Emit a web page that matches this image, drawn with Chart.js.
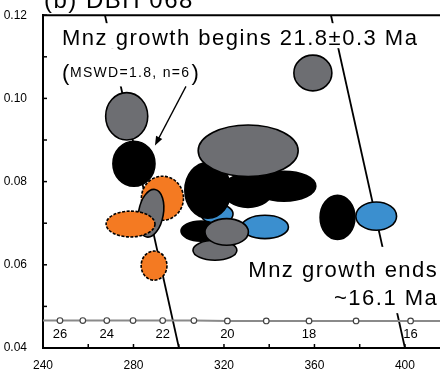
<!DOCTYPE html>
<html>
<head>
<meta charset="utf-8">
<script src="https://cdn.jsdelivr.net/npm/chart.js@4.4.0/dist/chart.umd.min.js"></script>
<style>
  html, body { margin: 0; padding: 0; background: #fff; }
  #wrap { width: 440px; height: 370px; }
</style>
</head>
<body>
<div id="wrap"><canvas id="chart" width="440" height="370"></canvas></div>
<script>
// Tick waarden van de assen
const xTickValues = [240, 280, 320, 360, 400];
const xMinorTicks = [260, 300, 340, 380];
const yTickValues = [0.04, 0.06, 0.08, 0.10, 0.12];
const yMinorTicks = [0.05, 0.07, 0.09, 0.11];

// Concordia: leeftijd (Ma), 238U/206Pb en 207Pb/206Pb
const concordiaAges = [null, 26, 25, 24, 23, 22, 21, 20, 19, 18, 17, 16, null];
const concordiaX = [240, 247.5, 257.6, 268.2, 279.8, 292.9, 306.7, 321.5, 338.7, 357.6, 378.4, 402.5, 415.5];
const concordiaY = [0.0466, 0.0466, 0.0466, 0.0466, 0.0466, 0.0466, 0.0466, 0.0465, 0.0465, 0.0465, 0.0465, 0.0465, 0.0465];

// Discordia lijnen (begin en eind)
const discordiaOldX = [267.4, 300.1];
const discordiaOldY = [0.12, 0.04];
const discordiaYoungX = [367.3, 400.0];
const discordiaYoungY = [0.12, 0.04];

// Foutellipsen: groep, middelpunt, halve assen en kanteling (graden)
const ellipseGroup = ['grey', 'orange', 'black', 'grey', 'orange', 'orange', 'blue', 'blue', 'black', 'black', 'black', 'grey', 'black', 'grey', 'grey', 'black', 'blue', 'grey'];
const ellipseX = [277.0, 292.8, 280.2, 287.7, 278.7, 289.1, 316.9, 338.1, 312.9, 330.6, 346.5, 330.7, 309.8, 316.0, 321.2, 370.2, 387.3, 359.3];
const ellipseY = [0.0957, 0.0760, 0.0843, 0.0724, 0.0698, 0.0598, 0.0722, 0.0691, 0.0779, 0.0779, 0.0789, 0.0874, 0.0681, 0.0635, 0.0679, 0.0714, 0.0717, 0.1061];
const ellipseSx = [9.3, 9.3, 9.3, 5.5, 10.8, 5.7, 7.1, 10.4, 10.2, 11.0, 14.1, 22.1, 8.8, 9.7, 9.6, 7.7, 9.0, 8.4];
const ellipseSy = [0.0057, 0.0053, 0.0054, 0.0058, 0.0031, 0.0035, 0.0024, 0.0028, 0.0067, 0.0041, 0.0036, 0.0062, 0.0024, 0.0024, 0.0032, 0.0053, 0.0034, 0.0043];
const ellipseTilt = [0, 0, 0, 10, 0, 0, 0, 0, 0, 0, 0, 0, 0, 0, 0, 0, 0, 0];

const groupColors = { grey: '#6d6e72', black: '#000000', orange: '#f47a22', blue: '#3b8fcf' };
const fontFamily = '"Liberation Sans", Arial, Helvetica, sans-serif';

// Ellipsen tekenen via de schalen van de chart
const ellipsePlugin = {
    id: 'ellipses',
    afterDatasetsDraw(chart) {
        const { ctx, chartArea, scales: { x, y } } = chart;
        ctx.save();
        ctx.beginPath();
        ctx.rect(chartArea.left, chartArea.top, chartArea.right - chartArea.left, chartArea.bottom - chartArea.top);
        ctx.clip();
        for (let i = 0; i < ellipseX.length; i++) {
            const cx = x.getPixelForValue(ellipseX[i]);
            const cy = y.getPixelForValue(ellipseY[i]);
            const rx = Math.abs(x.getPixelForValue(ellipseX[i] + ellipseSx[i]) - cx);
            const ry = Math.abs(y.getPixelForValue(ellipseY[i] + ellipseSy[i]) - cy);
            ctx.beginPath();
            ctx.ellipse(cx, cy, rx, ry, ellipseTilt[i] * Math.PI / 180, 0, Math.PI * 2);
            ctx.fillStyle = groupColors[ellipseGroup[i]];
            ctx.fill();
            ctx.setLineDash(ellipseGroup[i] === 'orange' ? [3, 1.5] : []);
            ctx.lineWidth = 1.6;
            ctx.strokeStyle = '#000';
            ctx.stroke();
        }
        ctx.restore();
    }
};

// Teksten, pijl, tick streepjes en leeftijdslabels
const labelPlugin = {
    id: 'labels',
    afterDatasetsDraw(chart) {
        const { ctx, chartArea, scales: { x, y } } = chart;
        ctx.save();
        ctx.setLineDash([]);

        // bovenrand
        ctx.strokeStyle = '#000';
        ctx.lineWidth = 2;
        ctx.beginPath();
        ctx.moveTo(chartArea.left - 1, chartArea.top);
        ctx.lineTo(chartArea.right, chartArea.top);
        ctx.stroke();

        // tick streepjes naar binnen
        ctx.lineWidth = 1.5;
        xTickValues.concat(xMinorTicks).forEach(v => {
            const px = x.getPixelForValue(v);
            ctx.beginPath();
            ctx.moveTo(px, chartArea.bottom);
            ctx.lineTo(px, chartArea.bottom - 4);
            ctx.stroke();
        });
        yTickValues.concat(yMinorTicks).forEach(v => {
            const py = y.getPixelForValue(v);
            ctx.beginPath();
            ctx.moveTo(chartArea.left, py);
            ctx.lineTo(chartArea.left + 4, py);
            ctx.stroke();
        });

        // leeftijden op de concordia
        ctx.fillStyle = '#000';
        ctx.font = '13px ' + fontFamily;
        ctx.textAlign = 'center';
        ctx.textBaseline = 'alphabetic';
        for (let i = 0; i < concordiaAges.length; i++) {
            const age = concordiaAges[i];
            if (age !== null && age % 2 === 0) {
                ctx.fillText(String(age), x.getPixelForValue(concordiaX[i]), y.getPixelForValue(concordiaY[i]) + 17.5);
            }
        }

        // titel (bovenkant valt buiten beeld)
        ctx.textAlign = 'left';
        ctx.letterSpacing = '1.5px';
        ctx.font = '24px ' + fontFamily;
        ctx.fillText('(b) DBH 068', 44, 8);

        // bovenste tekst met witte achtergrond
        ctx.font = '22px ' + fontFamily;
        const beginText = 'Mnz growth begins 21.8±0.3 Ma';
        const bx = x.getPixelForValue(248.4);
        const by = y.getPixelForValue(0.1128);
        const bw = ctx.measureText(beginText).width;
        ctx.fillStyle = '#fff';
        ctx.fillRect(bx - 4, by - 22, bw + 6, 25);

        const px0 = bx;
        const pb = y.getPixelForValue(0.1048);
        ctx.font = '14px ' + fontFamily;
        ctx.letterSpacing = '1.3px';
        const msText = 'MSWD=1.8, n=6';
        const mw = ctx.measureText(msText).width;
        ctx.fillStyle = '#fff';
        ctx.fillRect(px0 - 4, by + 3, mw + 28, pb - by + 5);

        ctx.fillStyle = '#000';
        ctx.font = '22px ' + fontFamily;
        ctx.letterSpacing = '1.5px';
        ctx.fillText(beginText, bx, by);
        ctx.letterSpacing = '0px';
        ctx.fillText('(', px0, pb + 2);
        ctx.font = '14px ' + fontFamily;
        ctx.letterSpacing = '1.3px';
        ctx.fillText(msText, px0 + 8, pb - 1);
        ctx.font = '22px ' + fontFamily;
        ctx.letterSpacing = '0px';
        ctx.fillText(')', px0 + 8 + mw + 1, pb + 2);

        // onderste tekst rechts
        ctx.letterSpacing = '1.5px';
        ctx.textAlign = 'right';
        const ex = x.getPixelForValue(414.1);
        const ey1 = y.getPixelForValue(0.0571);
        const ey2 = y.getPixelForValue(0.0503);
        const ew = ctx.measureText('Mnz growth ends').width;
        ctx.fillStyle = '#fff';
        ctx.fillRect(ex - ew - 4, ey1 - 30, ew + 10, ey2 - ey1 + 38);
        ctx.fillStyle = '#000';
        ctx.fillText('Mnz growth ends', ex + 1.5, ey1);
        ctx.fillText('~16.1 Ma', ex + 1.5, ey2);

        // pijl naar de ellips
        const ax1 = x.getPixelForValue(303.2), ay1 = y.getPixelForValue(0.1029);
        const ax2 = x.getPixelForValue(289.5), ay2 = y.getPixelForValue(0.0887);
        const ang = Math.atan2(ay2 - ay1, ax2 - ax1);
        ctx.strokeStyle = '#000';
        ctx.lineWidth = 1.3;
        ctx.beginPath();
        ctx.moveTo(ax1, ay1);
        ctx.lineTo(ax2 - 6 * Math.cos(ang), ay2 - 6 * Math.sin(ang));
        ctx.stroke();
        ctx.beginPath();
        ctx.moveTo(ax2, ay2);
        ctx.lineTo(ax2 - 9 * Math.cos(ang) + 3.5 * Math.sin(ang), ay2 - 9 * Math.sin(ang) - 3.5 * Math.cos(ang));
        ctx.lineTo(ax2 - 9 * Math.cos(ang) - 3.5 * Math.sin(ang), ay2 - 9 * Math.sin(ang) + 3.5 * Math.cos(ang));
        ctx.closePath();
        ctx.fillStyle = '#000';
        ctx.fill();

        ctx.restore();
    }
};

const ctx = document.getElementById('chart');

new Chart(ctx, {
    type: 'scatter',
    data: {
        datasets: [
            {
                type: 'line',
                label: 'concordia',
                data: concordiaX.map((v, i) => ({ x: v, y: concordiaY[i] })),
                borderColor: '#8a8a8a',
                borderWidth: 2,
                pointRadius: concordiaAges.map(a => a === null ? 0 : 2.8),
                pointBackgroundColor: '#ffffff',
                pointBorderColor: '#444444',
                pointBorderWidth: 1.2
            },
            {
                type: 'line',
                label: 'discordia oud',
                data: discordiaOldX.map((v, i) => ({ x: v, y: discordiaOldY[i] })),
                borderColor: '#000',
                borderWidth: 1.8,
                pointRadius: 0
            },
            {
                type: 'line',
                label: 'discordia jong',
                data: discordiaYoungX.map((v, i) => ({ x: v, y: discordiaYoungY[i] })),
                borderColor: '#000',
                borderWidth: 1.8,
                pointRadius: 0
            }
        ]
    },
    options: {
        responsive: false,
        devicePixelRatio: 1,
        animation: false,
        layout: { padding: { top: 15, right: 0, left: 0, bottom: 0 } },
        plugins: { legend: { display: false }, tooltip: { enabled: false } },
        scales: {
            x: {
                type: 'linear',
                min: 240,
                max: 415.5,
                grid: { display: false },
                border: { display: true, color: '#000', width: 2 },
                afterBuildTicks: scale => { scale.ticks = xTickValues.map(v => ({ value: v })); },
                afterFit: scale => { scale.height = 22; },
                ticks: {
                    autoSkip: false,
                    maxRotation: 0,
                    padding: 2,
                    color: '#000',
                    font: { family: fontFamily, size: 12 }
                }
            },
            y: {
                type: 'linear',
                min: 0.04,
                max: 0.12,
                grid: { display: false },
                border: { display: true, color: '#000', width: 2 },
                afterBuildTicks: scale => { scale.ticks = yTickValues.map(v => ({ value: v })); },
                afterFit: scale => { scale.width = 43; },
                ticks: {
                    autoSkip: false,
                    padding: 8,
                    color: '#000',
                    font: { family: fontFamily, size: 12 },
                    callback: v => v.toFixed(2)
                }
            }
        }
    },
    plugins: [ellipsePlugin, labelPlugin]
});
</script>
</body>
</html>
